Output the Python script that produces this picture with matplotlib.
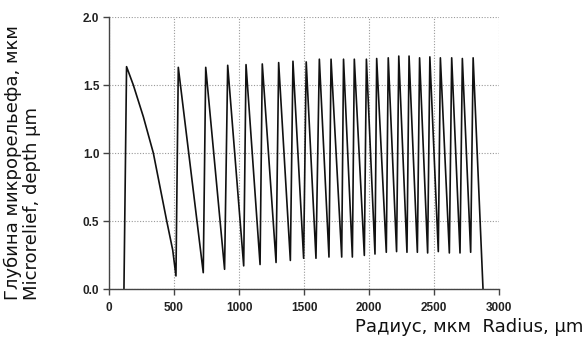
import matplotlib
matplotlib.use("Agg")
import matplotlib.pyplot as plt
from matplotlib.ticker import FormatStrFormatter

# Profile of the diffractive microrelief (radius in um, depth in um)
profile_radius = [115, 135, 187, 264, 341, 392, 444, 490, 515,
                  533, 725, 744, 889, 913, 1036, 1054, 1162, 1179, 1285,
                  1305, 1395, 1415, 1497, 1517, 1592, 1618, 1692, 1708, 1790,
                  1804, 1872, 1887, 1964, 1980, 2046, 2059, 2133, 2148, 2212,
                  2229, 2292, 2308, 2372, 2389, 2451, 2468, 2533, 2549, 2618,
                  2636, 2700, 2718, 2782, 2801, 2877]
profile_depth = [0.0, 1.635, 1.50, 1.267, 1.0, 0.752, 0.5, 0.287, 0.096,
                 1.63, 0.12, 1.63, 0.145, 1.645, 0.17, 1.65, 0.18, 1.655, 0.195,
                 1.665, 0.21, 1.675, 0.226, 1.67, 0.226, 1.69, 0.235, 1.69, 0.235,
                 1.69, 0.235, 1.69, 0.247, 1.69, 0.257, 1.695, 0.27, 1.70, 0.275,
                 1.713, 0.27, 1.713, 0.27, 1.70, 0.265, 1.707, 0.275, 1.70, 0.265,
                 1.70, 0.265, 1.695, 0.27, 1.70, 0.0]

x_ticks = [0, 500, 1000, 1500, 2000, 2500, 3000]
y_ticks = [0.0, 0.5, 1.0, 1.5, 2.0]

fig = plt.figure(figsize=(5.87, 3.43), dpi=100)
ax = fig.add_axes([0.1857, 0.1574, 0.6644, 0.793])

ax.plot(profile_radius, profile_depth, color="#111111", lw=1.2)

ax.set_xlim(0, 3000)
ax.set_ylim(0, 2.0)
ax.set_xticks(x_ticks)
ax.set_yticks(y_ticks)
ax.yaxis.set_major_formatter(FormatStrFormatter("%.1f"))

ax.grid(True, color="#999999", linestyle=(0, (1, 1.5)), linewidth=0.8)
for s in ["top", "right"]:
    ax.spines[s].set_visible(False)
for s in ["left", "bottom"]:
    ax.spines[s].set_color("#444444")
    ax.spines[s].set_linewidth(1.0)

ax.tick_params(axis="both", direction="out", length=4, width=1, color="#444444",
               pad=3)
ax.tick_params(axis="x", pad=5)
for lab in ax.get_xticklabels() + ax.get_yticklabels():
    lab.set_fontfamily("Liberation Sans")
    lab.set_fontweight("bold")
    lab.set_fontsize(8.5)
    lab.set_color("#222222")

fig.text(0.022, 0.125, "Глубина микрорельефа, мкм", rotation=90,
         ha="center", va="bottom", fontsize=13, family="DejaVu Sans", color="#111111")
fig.text(0.054, 0.125, "Microrelief, depth \u03bcm", rotation=90,
         ha="center", va="bottom", fontsize=13, family="DejaVu Sans", color="#111111")
fig.text(0.993, 0.047, "Радиус, мкм  Radius, \u03bcm", ha="right", va="center",
         fontsize=13, family="DejaVu Sans", color="#111111")

fig.savefig("out.png", dpi=100, facecolor="white")
